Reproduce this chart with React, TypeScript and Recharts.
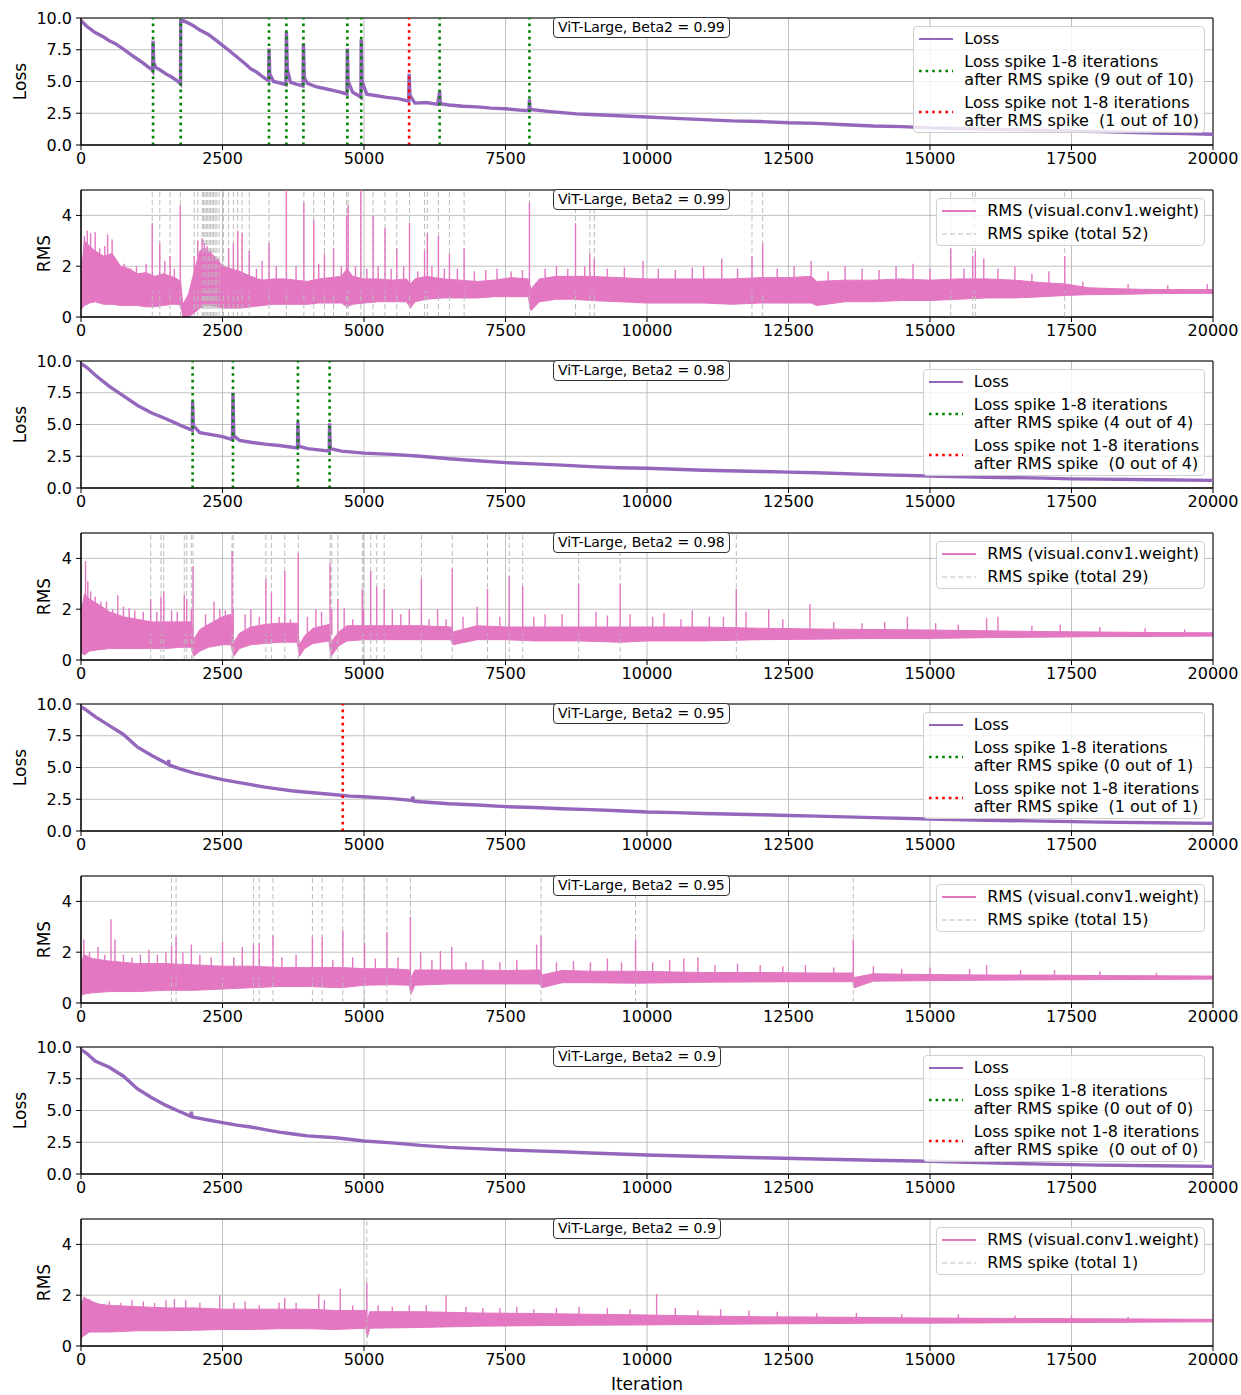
import React from "react";
import {
  Area,
  CartesianGrid,
  ComposedChart,
  Label,
  Line,
  ReferenceArea,
  ReferenceLine,
  XAxis,
  YAxis,
} from "recharts";

const PURPLE = "#9467bd";
const PINK = "#e377c2";
const FONT = "DejaVu Sans, sans-serif";

const ITER_TICKS = [0, 2500, 5000, 7500, 10000, 12500, 15000, 17500, 20000];
const LOSS_TICKS = [0, 2.5, 5, 7.5, 10];
const RMS_TICKS = [0, 2, 4];

// ---------- Beta2 = 0.99 ----------
const loss99: [number, number][] = [
  [0, 9.8], [100, 9.35], [250, 8.85], [400, 8.5], [500, 8.2], [600, 8.0], [750, 7.55], [900, 7.05],
  [1000, 6.75], [1100, 6.45], [1200, 6.1], [1250, 5.95], [1265, 5.85], [1273, 8.2], [1285, 6.5],
  [1320, 6.1], [1400, 5.9], [1500, 5.6], [1600, 5.35], [1700, 5.05], [1758, 4.8], [1762, 10.0],
  [1775, 9.85], [1900, 9.6], [2000, 9.35], [2100, 9.05], [2250, 8.7], [2400, 8.2], [2500, 7.85],
  [2600, 7.5], [2750, 6.95], [2900, 6.4], [3000, 6.0], [3100, 5.75], [3200, 5.4], [3315, 5.05],
  [3322, 7.6], [3335, 5.6], [3400, 5.0], [3500, 4.9], [3620, 4.75], [3629, 8.9], [3645, 6.0],
  [3700, 4.95], [3800, 4.8], [3920, 4.65], [3930, 8.0], [3945, 5.3], [4000, 4.85], [4150, 4.6],
  [4300, 4.45], [4450, 4.3], [4600, 4.15], [4698, 4.0], [4706, 7.6], [4720, 5.0], [4800, 4.15],
  [4900, 3.9], [4945, 3.75], [4951, 8.3], [4965, 5.0], [5050, 4.0], [5200, 3.9], [5400, 3.75],
  [5600, 3.65], [5790, 3.45], [5797, 5.6], [5812, 3.9], [5900, 3.3], [6100, 3.35], [6300, 3.2],
  [6336, 4.2], [6350, 3.25], [6500, 3.15], [6750, 3.05], [7000, 3.0], [7250, 2.9], [7500, 2.85],
  [7750, 2.75], [7915, 2.7], [7923, 3.6], [7935, 2.8], [8250, 2.65], [8500, 2.55], [8750, 2.45],
  [9000, 2.4], [9500, 2.3], [10000, 2.2], [10500, 2.1], [11000, 2.0], [11500, 1.9], [12000, 1.85],
  [12500, 1.75], [13000, 1.7], [13500, 1.6], [14000, 1.5], [14500, 1.45], [15000, 1.35],
  [15500, 1.3], [16000, 1.25], [16500, 1.2], [17000, 1.15], [17500, 1.1], [18000, 1.05],
  [18500, 1.0], [19000, 0.95], [19500, 0.9], [20000, 0.85],
];
const green99 = [1273, 1762, 3322, 3629, 3930, 4706, 4951, 6336, 7923];
const red99 = [5797];

const rms99: [number, number, number][] = [
  [0, 0.3, 1.6], [60, 0.45, 3.0], [150, 0.55, 2.8], [250, 0.6, 2.6], [400, 0.5, 2.4], [550, 0.5, 2.5],
  [700, 0.45, 2.0], [850, 0.45, 1.9], [1000, 0.45, 1.7], [1150, 0.4, 1.75], [1300, 0.4, 1.6],
  [1450, 0.45, 1.7], [1600, 0.5, 1.6], [1700, 0.5, 1.5], [1760, 0.45, 1.4], [1800, 0.0, 0.5],
  [1900, 0.02, 0.9], [2000, 0.15, 1.8], [2100, 0.35, 2.6], [2200, 0.45, 2.7], [2300, 0.45, 2.5],
  [2400, 0.4, 2.3], [2500, 0.35, 2.0], [2650, 0.35, 1.9], [2800, 0.35, 1.8], [3000, 0.4, 1.6],
  [3200, 0.45, 1.45], [3400, 0.5, 1.5], [3600, 0.5, 1.5], [3800, 0.5, 1.45], [4000, 0.5, 1.4],
  [4200, 0.55, 1.5], [4400, 0.55, 1.55], [4600, 0.55, 1.6], [4700, 0.4, 1.9], [4800, 0.5, 1.6],
  [5000, 0.55, 1.5], [5250, 0.6, 1.5], [5500, 0.6, 1.45], [5750, 0.6, 1.5], [5820, 0.35, 1.3],
  [5900, 0.6, 1.5], [6100, 0.7, 1.6], [6400, 0.75, 1.5], [6700, 0.75, 1.45], [7000, 0.75, 1.4],
  [7300, 0.8, 1.45], [7600, 0.8, 1.55], [7900, 0.8, 1.5], [7950, 0.25, 1.1], [8100, 0.6, 1.5],
  [8400, 0.7, 1.6], [8700, 0.7, 1.6], [9000, 0.65, 1.6], [9500, 0.6, 1.55], [10000, 0.55, 1.5],
  [10500, 0.55, 1.5], [11000, 0.55, 1.5], [11500, 0.5, 1.5], [12000, 0.55, 1.55], [12500, 0.55, 1.55],
  [12900, 0.55, 1.6], [13000, 0.45, 1.4], [13500, 0.6, 1.45], [14000, 0.6, 1.45], [14500, 0.65, 1.5],
  [15000, 0.65, 1.45], [15500, 0.7, 1.5], [16000, 0.75, 1.5], [16500, 0.75, 1.45], [17000, 0.8, 1.35],
  [17400, 0.85, 1.3], [17800, 0.88, 1.15], [18500, 0.9, 1.1], [19000, 0.92, 1.08], [19500, 0.93, 1.08],
  [20000, 0.93, 1.08],
];
const peaks99: [number, number][] = [
  [60, 3.2], [110, 3.4], [170, 3.3], [250, 3.35], [330, 2.7], [420, 2.8], [470, 3.25], [550, 3.05],
  [640, 2.2], [760, 2.1], [880, 1.9], [980, 2.0], [1150, 2.1], [1259, 3.7], [1392, 2.9], [1480, 2.2],
  [1573, 2.4], [1650, 1.9], [1755, 4.4], [2000, 2.4], [2063, 3.0], [2140, 3.1], [2180, 2.9],
  [2230, 2.8], [2290, 2.6], [2350, 2.4], [2420, 2.3], [2517, 2.0], [2608, 2.7], [2692, 2.9],
  [2769, 3.4], [2846, 3.3], [2972, 2.6], [3100, 1.9], [3200, 2.2], [3322, 2.9], [3450, 2.0],
  [3629, 5.5], [3800, 2.0], [3937, 4.5], [4112, 3.8], [4200, 2.1], [4301, 2.5], [4462, 2.7],
  [4600, 2.0], [4692, 4.0], [4720, 4.4], [4850, 2.0], [4944, 5.5], [5050, 1.9], [5161, 4.0],
  [5250, 2.0], [5371, 3.5], [5480, 1.9], [5580, 2.7], [5700, 2.0], [5804, 3.7], [5950, 1.8],
  [6070, 2.6], [6119, 3.3], [6200, 2.0], [6315, 3.2], [6420, 1.9], [6510, 2.5], [6650, 1.9],
  [6769, 2.7], [6950, 1.8], [7150, 1.85], [7350, 1.9], [7600, 1.8], [7800, 1.85], [7923, 4.5],
  [8200, 1.9], [8400, 2.0], [8600, 1.9], [8737, 3.7], [8900, 2.0], [8990, 2.5], [9069, 2.3],
  [9300, 1.9], [9600, 1.95], [9930, 2.2], [10200, 1.9], [10500, 1.85], [10800, 1.95], [11000, 2.0],
  [11320, 2.3], [11600, 1.9], [11855, 2.4], [12044, 2.9], [12300, 1.9], [12600, 2.0], [12900, 2.2],
  [13200, 1.8], [13500, 2.0], [13800, 1.9], [14100, 1.85], [14400, 2.0], [14700, 2.1], [15000, 1.9],
  [15367, 2.7], [15600, 1.9], [15754, 2.4], [15801, 2.6], [15950, 2.3], [16200, 1.9], [16500, 2.0],
  [16800, 1.7], [17100, 1.8], [17380, 2.4], [17700, 1.4], [18500, 1.3], [19200, 1.25], [19900, 1.3],
];
const spikes99 = [
  1259, 1392, 1573, 1755, 2000, 2063, 2140, 2165, 2190, 2215, 2240, 2265, 2290, 2315, 2340, 2370,
  2400, 2440, 2517, 2608, 2692, 2769, 2846, 2972, 3322, 3629, 3937, 4112, 4301, 4462, 4692, 4720,
  4944, 5161, 5371, 5580, 5804, 6070, 6119, 6315, 6510, 6769, 7923, 8737, 8990, 9069, 11855, 12044,
  15367, 15754, 15801, 17380,
];

// ---------- Beta2 = 0.98 ----------
const loss98: [number, number][] = [
  [0, 9.8], [100, 9.5], [250, 8.9], [500, 8.0], [750, 7.25], [1000, 6.5], [1250, 5.9], [1500, 5.45],
  [1750, 4.95], [1965, 4.55], [1972, 6.8], [1985, 4.9], [2100, 4.35], [2300, 4.2], [2500, 4.05],
  [2675, 3.8], [2685, 7.5], [2700, 4.1], [2800, 3.75], [3000, 3.6], [3250, 3.45], [3500, 3.35],
  [3825, 3.15], [3832, 5.2], [3845, 3.3], [4000, 3.1], [4200, 3.0], [4385, 2.9], [4392, 5.1],
  [4405, 3.1], [4600, 2.9], [5000, 2.75], [5500, 2.65], [6000, 2.5], [6500, 2.3], [7000, 2.15],
  [7500, 2.0], [8000, 1.9], [8500, 1.8], [9000, 1.68], [9500, 1.6], [10000, 1.55], [11000, 1.4],
  [12000, 1.3], [12500, 1.25], [13000, 1.2], [14000, 1.05], [15000, 0.95], [16000, 0.85],
  [17000, 0.78], [17500, 0.72], [18000, 0.7], [19000, 0.65], [20000, 0.6],
];
const green98 = [1972, 2685, 3832, 4392];
const red98: number[] = [];

const rms98: [number, number, number][] = [
  [0, 0.3, 1.8], [60, 0.2, 2.6], [150, 0.35, 2.4], [300, 0.4, 2.2], [500, 0.45, 1.9], [750, 0.45, 1.7],
  [1000, 0.45, 1.6], [1250, 0.45, 1.5], [1500, 0.45, 1.5], [1750, 0.5, 1.5], [1950, 0.5, 1.5],
  [1990, 0.15, 0.8], [2100, 0.35, 1.2], [2250, 0.5, 1.4], [2500, 0.6, 1.7], [2650, 0.6, 1.8],
  [2700, 0.15, 0.7], [2800, 0.45, 1.05], [3000, 0.6, 1.3], [3250, 0.65, 1.4], [3500, 0.7, 1.45],
  [3820, 0.7, 1.45], [3860, 0.15, 0.6], [3950, 0.45, 0.95], [4100, 0.65, 1.25], [4380, 0.75, 1.4],
  [4420, 0.15, 0.7], [4550, 0.55, 1.1], [4700, 0.75, 1.35], [5000, 0.8, 1.35], [5500, 0.8, 1.35],
  [6000, 0.8, 1.35], [6530, 0.8, 1.3], [6570, 0.6, 1.1], [7000, 0.8, 1.35], [7500, 0.8, 1.3],
  [8000, 0.75, 1.3], [8800, 0.75, 1.3], [9530, 0.7, 1.3], [10000, 0.75, 1.3], [11000, 0.75, 1.3],
  [12000, 0.8, 1.25], [13000, 0.82, 1.22], [14000, 0.85, 1.2], [15000, 0.85, 1.18], [16000, 0.88, 1.15],
  [17000, 0.9, 1.12], [18000, 0.92, 1.1], [19000, 0.93, 1.08], [20000, 0.94, 1.07],
];
const peaks98: [number, number][] = [
  [80, 3.9], [120, 3.1], [170, 2.7], [250, 2.5], [350, 2.3], [450, 2.3], [560, 2.0], [650, 2.55],
  [750, 2.1], [850, 2.05], [950, 1.95], [1100, 1.9], [1231, 2.4], [1340, 1.9], [1413, 2.5],
  [1462, 2.7], [1600, 1.95], [1700, 1.9], [1825, 2.55], [1867, 2.4], [1950, 2.0], [1980, 3.7],
  [2200, 1.8], [2350, 2.3], [2450, 2.0], [2550, 1.95], [2670, 4.3], [2690, 2.0], [2900, 1.8],
  [3000, 2.0], [3150, 1.7], [3266, 3.2], [3364, 2.65], [3500, 1.7], [3601, 3.5], [3700, 1.6],
  [3839, 4.2], [4000, 1.7], [4150, 2.0], [4250, 1.9], [4400, 3.8], [4430, 2.0], [4538, 2.4],
  [4650, 2.05], [4800, 1.6], [4970, 2.8], [4990, 2.0], [5119, 3.5], [5224, 2.9], [5357, 2.8],
  [5500, 2.0], [5650, 1.8], [5800, 2.0], [6014, 3.2], [6150, 1.6], [6300, 2.0], [6450, 1.6],
  [6559, 3.6], [6750, 1.7], [7000, 2.1], [7182, 2.8], [7400, 1.7], [7566, 3.3], [7804, 2.9],
  [8000, 1.7], [8200, 1.8], [8500, 1.8], [8792, 3.0], [9100, 1.9], [9300, 1.75], [9526, 3.0],
  [9700, 1.8], [10100, 1.7], [10300, 1.85], [10600, 1.6], [10800, 1.95], [11100, 1.7], [11350, 1.7],
  [11578, 2.8], [11750, 1.9], [12150, 2.0], [12400, 1.6], [12880, 2.2], [13300, 1.5], [13800, 1.45],
  [14200, 1.5], [14600, 1.7], [15100, 1.45], [15500, 1.4], [16000, 1.65], [16200, 1.7], [16800, 1.35],
  [17300, 1.4], [18000, 1.3], [18800, 1.25], [19500, 1.2],
];
const spikes98 = [
  1231, 1413, 1462, 1825, 1867, 1950, 1980, 2670, 2690, 3266, 3364, 3601, 3839, 4400, 4430, 4538,
  4970, 4990, 5119, 5224, 5357, 6014, 6559, 7182, 7566, 7804, 8792, 9526, 11578,
];

// ---------- Beta2 = 0.95 ----------
const loss95: [number, number][] = [
  [0, 9.8], [100, 9.5], [250, 9.0], [500, 8.3], [750, 7.6], [1000, 6.6], [1250, 5.95], [1500, 5.35],
  [1545, 5.25], [1550, 5.6], [1555, 5.2], [1750, 4.9], [2000, 4.55], [2250, 4.3], [2500, 4.05],
  [2750, 3.85], [3000, 3.65], [3250, 3.45], [3500, 3.3], [3750, 3.15], [4000, 3.05], [4250, 2.95],
  [4500, 2.85], [4750, 2.75], [5000, 2.7], [5500, 2.55], [5850, 2.4], [5860, 2.7], [5880, 2.35],
  [6000, 2.3], [6500, 2.15], [7000, 2.05], [7500, 1.92], [8000, 1.85], [8500, 1.75], [9000, 1.68],
  [9500, 1.6], [10000, 1.5], [10500, 1.45], [11000, 1.38], [12000, 1.28], [12500, 1.22],
  [13000, 1.17], [14000, 1.05], [15000, 0.95], [16000, 0.85], [17000, 0.78], [18000, 0.7],
  [19000, 0.65], [20000, 0.6],
];
const green95: number[] = [];
const red95 = [4625];

const rms95: [number, number, number][] = [
  [0, 0.3, 1.5], [50, 0.35, 1.9], [200, 0.4, 1.75], [500, 0.45, 1.65], [1000, 0.45, 1.55],
  [1500, 0.5, 1.55], [2000, 0.5, 1.5], [2500, 0.55, 1.45], [3000, 0.6, 1.45], [3500, 0.65, 1.4],
  [4000, 0.65, 1.4], [4600, 0.6, 1.4], [5000, 0.7, 1.35], [5500, 0.72, 1.35], [5800, 0.7, 1.3],
  [5830, 0.35, 1.0], [5900, 0.7, 1.3], [6500, 0.75, 1.3], [7000, 0.75, 1.3], [7500, 0.75, 1.28],
  [8100, 0.75, 1.3], [8140, 0.6, 1.1], [8500, 0.8, 1.28], [9000, 0.8, 1.25], [9800, 0.78, 1.25],
  [10500, 0.8, 1.22], [11000, 0.82, 1.2], [12000, 0.83, 1.2], [13000, 0.84, 1.18], [13640, 0.84, 1.18],
  [13660, 0.6, 1.0], [14000, 0.86, 1.15], [15000, 0.88, 1.12], [16000, 0.9, 1.1], [17000, 0.91, 1.1],
  [18000, 0.92, 1.08], [19000, 0.93, 1.07], [20000, 0.94, 1.06],
];
const peaks95: [number, number][] = [
  [50, 2.5], [150, 2.0], [300, 2.2], [420, 1.9], [530, 3.3], [600, 2.5], [750, 1.9], [900, 1.8],
  [1050, 1.9], [1200, 2.1], [1350, 1.9], [1500, 2.0], [1599, 2.25], [1680, 2.6], [1800, 2.0],
  [1950, 2.3], [2100, 1.9], [2300, 1.8], [2500, 2.4], [2700, 1.8], [2850, 2.2], [3047, 2.3],
  [3148, 2.35], [3391, 2.65], [3550, 1.8], [3800, 1.9], [4089, 2.6], [4261, 2.6], [4450, 1.7],
  [4626, 2.85], [4800, 1.8], [5010, 2.35], [5200, 1.75], [5405, 2.8], [5600, 1.8], [5820, 3.4],
  [6000, 2.0], [6200, 1.7], [6350, 2.05], [6550, 2.2], [6800, 1.6], [7100, 1.7], [7400, 1.6],
  [7700, 1.7], [8050, 2.3], [8128, 2.65], [8400, 1.6], [8700, 1.65], [9000, 1.6], [9300, 1.75],
  [9550, 1.6], [9798, 2.5], [10100, 1.6], [10400, 1.7], [10650, 1.75], [10900, 1.8], [11200, 1.5],
  [11600, 1.55], [12000, 1.5], [12400, 1.45], [12800, 1.5], [13300, 1.4], [13644, 2.5], [14000, 1.45],
  [14500, 1.35], [15000, 1.4], [15700, 1.35], [16000, 1.5], [16600, 1.3], [17200, 1.3], [18000, 1.25],
  [19000, 1.2],
];
const spikes95 = [1599, 1680, 2500, 3047, 3148, 3391, 4089, 4261, 4626, 5010, 5405, 5820, 8128, 9798, 13644];

// ---------- Beta2 = 0.9 ----------
const loss90: [number, number][] = [
  [0, 9.8], [100, 9.5], [250, 8.9], [500, 8.4], [750, 7.7], [1000, 6.7], [1250, 6.0], [1500, 5.4],
  [1750, 4.9], [1940, 4.55], [1950, 4.9], [1960, 4.5], [2250, 4.25], [2500, 4.05], [2750, 3.85],
  [3000, 3.7], [3250, 3.5], [3500, 3.3], [3750, 3.15], [4000, 3.0], [4500, 2.85], [5000, 2.6],
  [5500, 2.45], [6000, 2.25], [6500, 2.1], [7000, 2.0], [7500, 1.9], [8000, 1.82], [8500, 1.75],
  [9000, 1.65], [9500, 1.58], [10000, 1.5], [11000, 1.38], [12000, 1.28], [13000, 1.18],
  [14000, 1.08], [15000, 1.0], [16000, 0.88], [17000, 0.78], [18000, 0.7], [19000, 0.65], [20000, 0.6],
];
const green90: number[] = [];
const red90: number[] = [];

const rms90: [number, number, number][] = [
  [0, 0.3, 1.6], [50, 0.4, 1.9], [150, 0.55, 1.8], [300, 0.55, 1.65], [500, 0.55, 1.6], [1000, 0.6, 1.55],
  [1500, 0.6, 1.5], [2000, 0.62, 1.5], [2500, 0.65, 1.45], [3000, 0.65, 1.45], [3500, 0.68, 1.45],
  [4000, 0.68, 1.45], [4500, 0.65, 1.4], [5030, 0.7, 1.4], [5060, 0.35, 1.0], [5100, 0.7, 1.35],
  [6000, 0.73, 1.35], [7000, 0.78, 1.3], [8000, 0.8, 1.28], [9000, 0.82, 1.25], [10000, 0.83, 1.22],
  [11000, 0.85, 1.18], [12000, 0.87, 1.15], [13000, 0.88, 1.14], [14000, 0.9, 1.12], [15000, 0.9, 1.1],
  [16000, 0.91, 1.09], [17000, 0.92, 1.08], [18000, 0.93, 1.07], [19000, 0.94, 1.06], [20000, 0.95, 1.05],
];
const peaks90: [number, number][] = [
  [60, 1.95], [150, 1.85], [300, 1.7], [500, 1.75], [700, 1.7], [900, 1.8], [1100, 1.75], [1300, 1.7],
  [1500, 1.8], [1650, 1.85], [1850, 1.8], [2100, 1.7], [2450, 2.0], [2700, 1.7], [2900, 1.75],
  [3150, 1.6], [3500, 1.7], [3600, 1.9], [3800, 1.7], [4200, 2.05], [4300, 1.8], [4580, 2.25],
  [4800, 1.6], [5050, 2.5], [5250, 1.6], [5500, 1.55], [5800, 1.6], [6100, 1.6], [6450, 2.0],
  [6800, 1.55], [7100, 1.5], [7400, 1.5], [7700, 1.55], [8000, 1.45], [8400, 1.5], [8800, 1.55],
  [9300, 1.5], [9700, 1.45], [10170, 2.05], [10500, 1.5], [10900, 1.4], [11300, 1.45], [11800, 1.4],
  [12300, 1.35], [13000, 1.3], [13700, 1.3], [14500, 1.25], [15500, 1.25], [16500, 1.2], [17500, 1.2],
  [18500, 1.15],
];
const spikes90 = [5050];

// geometry of each subplot
const PLOT_TOP0 = 18;
const PLOT_STEP = 171.57;
const PLOT_H = 127;
const TOP_PAD = 12;
const AXIS_H = 30;

const tickStyle = { fill: "#000", fontSize: 16, fontFamily: FONT };

function SampleLine({ color, dash, width }: { color: string; dash?: string; width: number }) {
  return (
    <svg width={34} height={10} style={{ flex: "none" }}>
      <line x1={0} x2={34} y1={5} y2={5} stroke={color} strokeWidth={width} strokeDasharray={dash} />
    </svg>
  );
}

type LegendEntry = { color: string; dash?: string; width: number; text: string[] };

function LegendBox({ entries }: { entries: LegendEntry[] }) {
  return (
    <div
      style={{
        position: "absolute",
        right: 36,
        top: TOP_PAD + 8,
        background: "rgba(255,255,255,0.8)",
        border: "1px solid #d0d0d0",
        borderRadius: 4,
        padding: "3px 5px 2px 5px",
        fontFamily: FONT,
        fontSize: 16,
        lineHeight: "18px",
        color: "#000",
      }}
    >
      {entries.map((e, i) => (
        <div key={i} style={{ display: "flex", alignItems: "center", marginTop: i === 0 ? 0 : 5 }}>
          <SampleLine color={e.color} dash={e.dash} width={e.width} />
          <div style={{ marginLeft: 11, whiteSpace: "pre" }}>
            {e.text.map((t, j) => (
              <div key={j}>{t}</div>
            ))}
          </div>
        </div>
      ))}
    </div>
  );
}

function TitleBox({ beta }: { beta: string }) {
  return (
    <div
      style={{
        position: "absolute",
        left: 553,
        top: TOP_PAD - 1,
        height: 19,
        padding: "0 4px",
        border: "1px solid #333",
        borderRadius: 4,
        background: "#fff",
        fontFamily: FONT,
        fontSize: 14,
        lineHeight: "19px",
        whiteSpace: "pre",
      }}
    >
      {`ViT-Large, Beta2 = ${beta}`}
    </div>
  );
}

function LossPanel({
  index,
  data,
  green,
  red,
  beta,
}: {
  index: number;
  data: [number, number][];
  green: number[];
  red: number[];
  beta: string;
}) {
  const rows = data.map(([it, loss]) => ({ it, loss }));
  const total = green.length + red.length;
  const top = PLOT_TOP0 + index * PLOT_STEP - TOP_PAD;
  return (
    <div style={{ position: "absolute", left: 0, top, width: 1241 }}>
      <ComposedChart
        width={1241}
        height={TOP_PAD + PLOT_H + AXIS_H}
        data={rows}
        margin={{ top: TOP_PAD, right: 28, bottom: 0, left: 0 }}
      >
        <CartesianGrid stroke="#b0b0b0" strokeWidth={0.8} />
        <XAxis
          dataKey="it"
          type="number"
          domain={[0, 20000]}
          ticks={ITER_TICKS}
          interval={0}
          height={AXIS_H}
          tickSize={5}
          tickMargin={3}
          stroke="#000"
          tick={tickStyle}
        />
        <YAxis
          type="number"
          domain={[0, 10]}
          ticks={LOSS_TICKS}
          interval={0}
          width={81}
          tickSize={5}
          tickMargin={4}
          stroke="#000"
          tick={tickStyle}
          tickFormatter={(v: number) => v.toFixed(1)}
        >
          <Label
            value="Loss"
            angle={-90}
            position="insideLeft"
            offset={20}
            style={{ textAnchor: "middle", fontSize: 17, fill: "#000", fontFamily: FONT }}
          />
        </YAxis>
        <Line
          dataKey="loss"
          type="linear"
          stroke={PURPLE}
          strokeWidth={3.4}
          dot={false}
          isAnimationActive={false}
        />
        {green.map((x) => (
          <ReferenceLine key={`g${x}`} x={x} stroke="#008000" strokeWidth={2.6} strokeDasharray="2.6 4" />
        ))}
        {red.map((x) => (
          <ReferenceLine key={`r${x}`} x={x} stroke="#ff0000" strokeWidth={2.6} strokeDasharray="2.6 4" />
        ))}
        <ReferenceArea x1={0} x2={20000} y1={0} y2={10} fill="none" fillOpacity={0} stroke="#000" strokeWidth={1} />
      </ComposedChart>
      <TitleBox beta={beta} />
      <LegendBox
        entries={[
          { color: PURPLE, width: 1.8, text: ["Loss"] },
          {
            color: "#008000",
            width: 2.6,
            dash: "2.6 4",
            text: ["Loss spike 1-8 iterations", `after RMS spike (${green.length} out of ${total})`],
          },
          {
            color: "#ff0000",
            width: 2.6,
            dash: "2.6 4",
            text: ["Loss spike not 1-8 iterations", `after RMS spike  (${red.length} out of ${total})`],
          },
        ]}
      />
    </div>
  );
}

function RmsPanel({
  index,
  band,
  peaks,
  spikes,
  beta,
  last,
}: {
  index: number;
  band: [number, number, number][];
  peaks: [number, number][];
  spikes: number[];
  beta: string;
  last?: boolean;
}) {
  const rows = band.map(([it, lo, hi]) => ({ it, band: [lo, hi] }));
  const top = PLOT_TOP0 + index * PLOT_STEP - TOP_PAD;
  const axisH = last ? 54 : AXIS_H;
  return (
    <div style={{ position: "absolute", left: 0, top, width: 1241 }}>
      <ComposedChart
        width={1241}
        height={TOP_PAD + PLOT_H + axisH}
        data={rows}
        margin={{ top: TOP_PAD, right: 28, bottom: 0, left: 0 }}
      >
        <CartesianGrid stroke="#b0b0b0" strokeWidth={0.8} />
        <XAxis
          dataKey="it"
          type="number"
          domain={[0, 20000]}
          ticks={ITER_TICKS}
          interval={0}
          height={axisH}
          tickSize={5}
          tickMargin={3}
          stroke="#000"
          tick={tickStyle}
        >
          {last && (
            <Label
              value="Iteration"
              position="insideBottom"
              offset={10}
              style={{ fontSize: 17, fill: "#000", fontFamily: FONT }}
            />
          )}
        </XAxis>
        <YAxis
          type="number"
          domain={[0, 5]}
          ticks={RMS_TICKS}
          interval={0}
          width={81}
          tickSize={5}
          tickMargin={4}
          stroke="#000"
          tick={tickStyle}
          allowDataOverflow
        >
          <Label
            value="RMS"
            angle={-90}
            position="insideLeft"
            offset={44}
            style={{ textAnchor: "middle", fontSize: 17, fill: "#000", fontFamily: FONT }}
          />
        </YAxis>
        {spikes.map((x, i) => (
          <ReferenceLine key={`s${i}`} x={x} stroke="#bdbdbd" strokeWidth={1} strokeDasharray="5 3" />
        ))}
        <Area
          dataKey="band"
          type="linear"
          stroke={PINK}
          strokeWidth={1}
          fill={PINK}
          fillOpacity={1}
          isAnimationActive={false}
        />
        {peaks.map(([x, y], i) => (
          <ReferenceLine
            key={`p${i}`}
            segment={[
              { x, y: 1 },
              { x, y },
            ]}
            stroke={PINK}
            strokeWidth={1.4}
            ifOverflow="hidden"
          />
        ))}
        <ReferenceArea x1={0} x2={20000} y1={0} y2={5} fill="none" fillOpacity={0} stroke="#000" strokeWidth={1} />
      </ComposedChart>
      <TitleBox beta={beta} />
      <LegendBox
        entries={[
          { color: PINK, width: 1.8, text: ["RMS (visual.conv1.weight)"] },
          { color: "#bdbdbd", width: 1.2, dash: "5 3", text: [`RMS spike (total ${spikes.length})`] },
        ]}
      />
    </div>
  );
}

export default function App() {
  return (
    <div
      style={{
        position: "absolute",
        left: 0,
        top: 0,
        width: 1241,
        height: 1395,
        overflow: "hidden",
        background: "#fff",
        fontFamily: FONT,
      }}
    >
      <LossPanel index={0} data={loss99} green={green99} red={red99} beta="0.99" />
      <RmsPanel index={1} band={rms99} peaks={peaks99} spikes={spikes99} beta="0.99" />
      <LossPanel index={2} data={loss98} green={green98} red={red98} beta="0.98" />
      <RmsPanel index={3} band={rms98} peaks={peaks98} spikes={spikes98} beta="0.98" />
      <LossPanel index={4} data={loss95} green={green95} red={red95} beta="0.95" />
      <RmsPanel index={5} band={rms95} peaks={peaks95} spikes={spikes95} beta="0.95" />
      <LossPanel index={6} data={loss90} green={green90} red={red90} beta="0.9" />
      <RmsPanel index={7} band={rms90} peaks={peaks90} spikes={spikes90} beta="0.9" last />
    </div>
  );
}
